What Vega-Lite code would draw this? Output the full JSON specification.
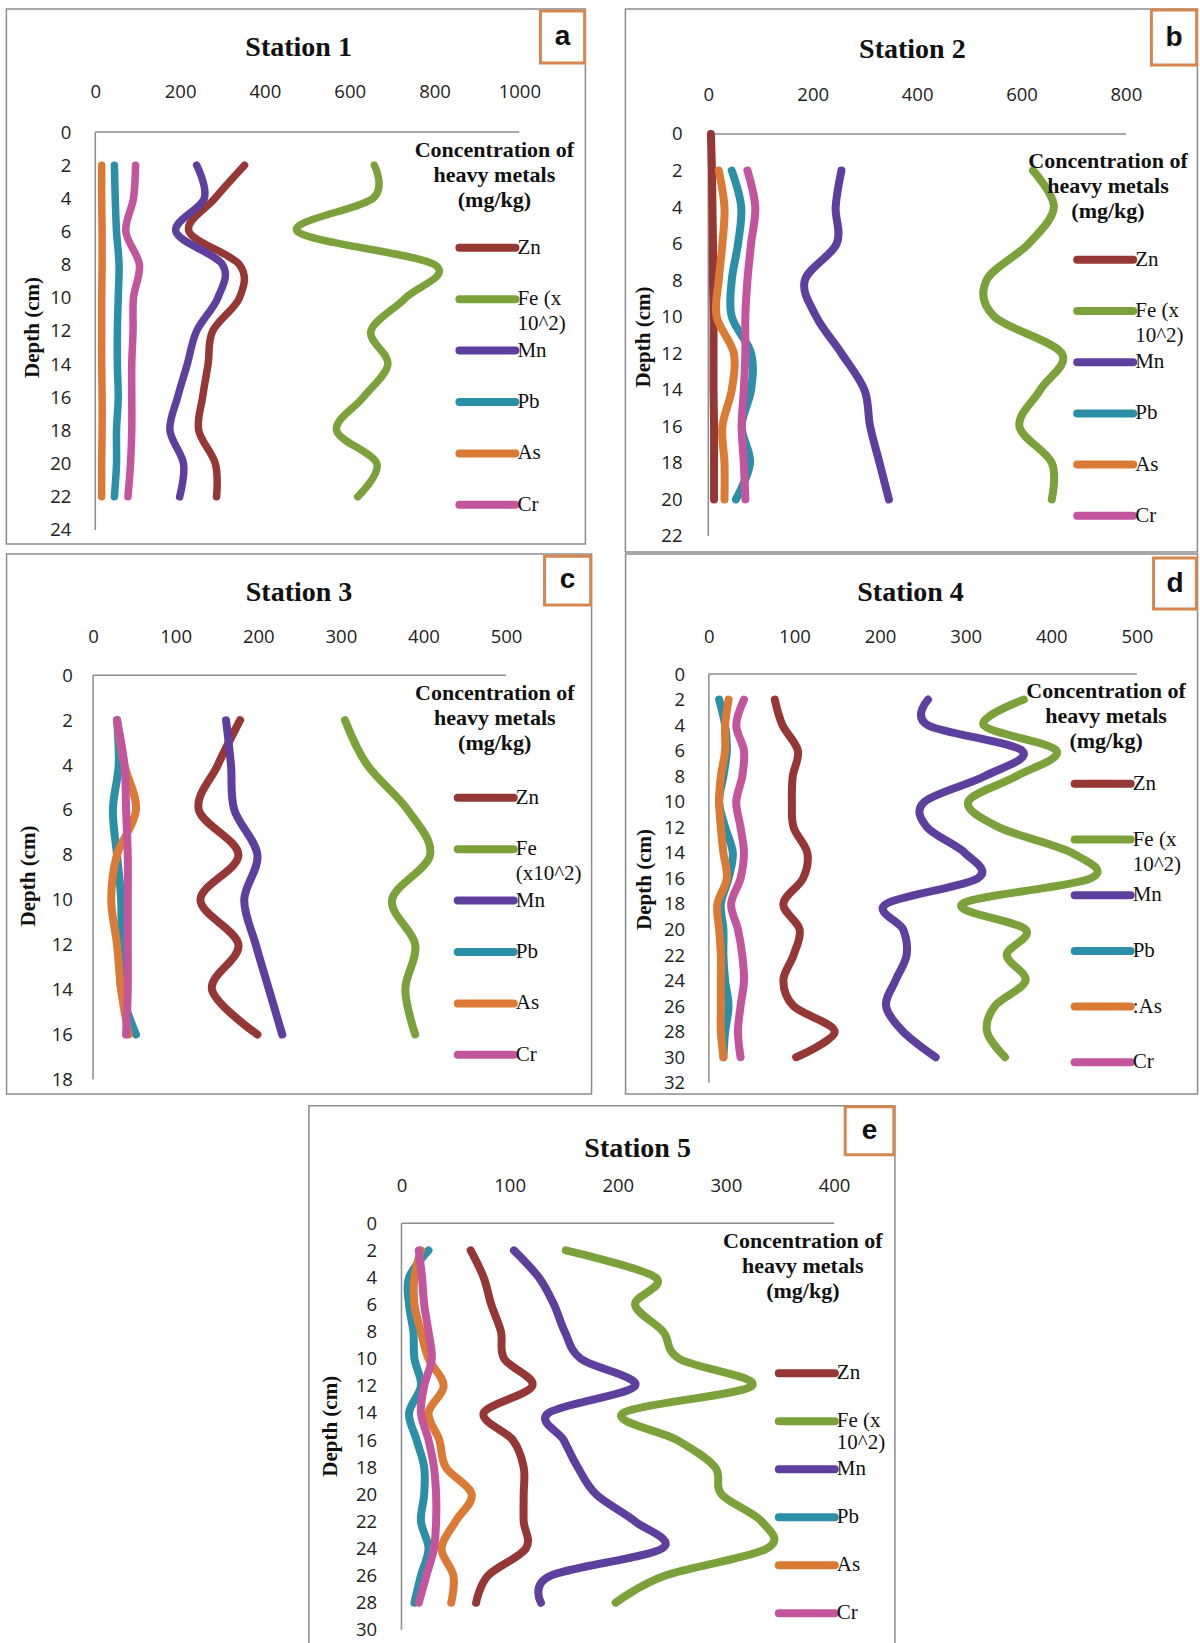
{
"$schema": "https://vega.github.io/schema/vega-lite/v6.json",
"background": "white",
"padding": {"left": 5, "top": 7, "right": 0, "bottom": 0},
"config": {
  "view": {"stroke": "#8c8c8c", "strokeWidth": 1.5},
  "axis": {"labelFont": "Open Sans", "labelFontSize": 18.5, "labelColor": "#222222", "domain": false, "ticks": false, "tickSize": 0, "grid": false, "labelOverlap": false, "labelFlush": false, "format": "d"},
  "title": {"font": "Liberation Serif", "fontSize": 28, "fontWeight": "bold", "color": "#111111", "anchor": "middle", "frame": "group"},
  "legend": {"titleFont": "Liberation Serif", "titleFontSize": 22, "titleFontWeight": "bold", "titleColor": "#111111", "titleLineHeight": 25, "titleAlign": "center", "titleAnchor": "middle", "titleLimit": 400, "padding": 0, "symbolType": "M-4,0H4", "symbolSize": 196, "symbolStrokeWidth": 8, "labelFont": "Liberation Serif", "labelFontSize": 21, "labelColor": "#111111", "labelBaseline": "middle", "labelLimit": 300, "labelOffset": 19, "gridAlign": "all"}
},
"datasets": {
"s1": [
{"metal":"Zn","depth":2,"value":352},{"metal":"Zn","depth":4,"value":282},{"metal":"Zn","depth":6,"value":221},{"metal":"Zn","depth":8,"value":340},{"metal":"Zn","depth":10,"value":340},{"metal":"Zn","depth":12,"value":277},{"metal":"Zn","depth":14,"value":266},{"metal":"Zn","depth":16,"value":253},{"metal":"Zn","depth":18,"value":244},{"metal":"Zn","depth":20,"value":283},{"metal":"Zn","depth":22,"value":286},
{"metal":"Fe","depth":2,"value":658},{"metal":"Fe","depth":4,"value":655},{"metal":"Fe","depth":6,"value":477},{"metal":"Fe","depth":8,"value":800},{"metal":"Fe","depth":10,"value":732},{"metal":"Fe","depth":12,"value":650},{"metal":"Fe","depth":14,"value":690},{"metal":"Fe","depth":16,"value":632},{"metal":"Fe","depth":18,"value":569},{"metal":"Fe","depth":20,"value":664},{"metal":"Fe","depth":22,"value":619},
{"metal":"Mn","depth":2,"value":239},{"metal":"Mn","depth":4,"value":257},{"metal":"Mn","depth":6,"value":190},{"metal":"Mn","depth":8,"value":300},{"metal":"Mn","depth":10,"value":289},{"metal":"Mn","depth":12,"value":239},{"metal":"Mn","depth":14,"value":217},{"metal":"Mn","depth":16,"value":194},{"metal":"Mn","depth":18,"value":176},{"metal":"Mn","depth":20,"value":208},{"metal":"Mn","depth":22,"value":199},
{"metal":"Pb","depth":2,"value":45},{"metal":"Pb","depth":4,"value":47},{"metal":"Pb","depth":6,"value":50},{"metal":"Pb","depth":8,"value":56},{"metal":"Pb","depth":10,"value":54},{"metal":"Pb","depth":12,"value":52},{"metal":"Pb","depth":14,"value":52},{"metal":"Pb","depth":16,"value":54},{"metal":"Pb","depth":18,"value":50},{"metal":"Pb","depth":20,"value":50},{"metal":"Pb","depth":22,"value":45},
{"metal":"As","depth":2,"value":15},{"metal":"As","depth":4,"value":15},{"metal":"As","depth":6,"value":16},{"metal":"As","depth":8,"value":16},{"metal":"As","depth":10,"value":15},{"metal":"As","depth":12,"value":15},{"metal":"As","depth":14,"value":15},{"metal":"As","depth":16,"value":16},{"metal":"As","depth":18,"value":16},{"metal":"As","depth":20,"value":15},{"metal":"As","depth":22,"value":15},
{"metal":"Cr","depth":2,"value":95},{"metal":"Cr","depth":4,"value":90},{"metal":"Cr","depth":6,"value":72},{"metal":"Cr","depth":8,"value":104},{"metal":"Cr","depth":10,"value":90},{"metal":"Cr","depth":12,"value":89},{"metal":"Cr","depth":14,"value":86},{"metal":"Cr","depth":16,"value":86},{"metal":"Cr","depth":18,"value":86},{"metal":"Cr","depth":20,"value":83},{"metal":"Cr","depth":22,"value":77}
],
"s2": [
{"metal":"Zn","depth":0,"value":5},{"metal":"Zn","depth":2,"value":7},{"metal":"Zn","depth":4,"value":8},{"metal":"Zn","depth":6,"value":9},{"metal":"Zn","depth":8,"value":9},{"metal":"Zn","depth":10,"value":10},{"metal":"Zn","depth":12,"value":10},{"metal":"Zn","depth":14,"value":10},{"metal":"Zn","depth":16,"value":11},{"metal":"Zn","depth":18,"value":11},{"metal":"Zn","depth":20,"value":11},
{"metal":"Fe","depth":2,"value":622},{"metal":"Fe","depth":4,"value":662},{"metal":"Fe","depth":6,"value":614},{"metal":"Fe","depth":8,"value":533},{"metal":"Fe","depth":10,"value":548},{"metal":"Fe","depth":12,"value":677},{"metal":"Fe","depth":14,"value":636},{"metal":"Fe","depth":16,"value":596},{"metal":"Fe","depth":18,"value":658},{"metal":"Fe","depth":20,"value":658},
{"metal":"Mn","depth":2,"value":255},{"metal":"Mn","depth":4,"value":244},{"metal":"Mn","depth":6,"value":246},{"metal":"Mn","depth":8,"value":185},{"metal":"Mn","depth":10,"value":207},{"metal":"Mn","depth":12,"value":255},{"metal":"Mn","depth":14,"value":299},{"metal":"Mn","depth":16,"value":310},{"metal":"Mn","depth":18,"value":328},{"metal":"Mn","depth":20,"value":346},
{"metal":"Pb","depth":2,"value":45},{"metal":"Pb","depth":4,"value":63},{"metal":"Pb","depth":6,"value":57},{"metal":"Pb","depth":8,"value":45},{"metal":"Pb","depth":10,"value":45},{"metal":"Pb","depth":12,"value":82},{"metal":"Pb","depth":14,"value":82},{"metal":"Pb","depth":16,"value":64},{"metal":"Pb","depth":18,"value":80},{"metal":"Pb","depth":20,"value":53},
{"metal":"As","depth":2,"value":20},{"metal":"As","depth":4,"value":31},{"metal":"As","depth":6,"value":27},{"metal":"As","depth":8,"value":20},{"metal":"As","depth":10,"value":16},{"metal":"As","depth":12,"value":49},{"metal":"As","depth":14,"value":45},{"metal":"As","depth":16,"value":27},{"metal":"As","depth":18,"value":31},{"metal":"As","depth":20,"value":31},
{"metal":"Cr","depth":2,"value":75},{"metal":"Cr","depth":4,"value":90},{"metal":"Cr","depth":6,"value":82},{"metal":"Cr","depth":8,"value":75},{"metal":"Cr","depth":10,"value":71},{"metal":"Cr","depth":12,"value":71},{"metal":"Cr","depth":14,"value":68},{"metal":"Cr","depth":16,"value":64},{"metal":"Cr","depth":18,"value":68},{"metal":"Cr","depth":20,"value":71}
],
"s3": [
{"metal":"Zn","depth":2,"value":178},{"metal":"Zn","depth":4,"value":151},{"metal":"Zn","depth":6,"value":128},{"metal":"Zn","depth":8,"value":176},{"metal":"Zn","depth":10,"value":130},{"metal":"Zn","depth":12,"value":176},{"metal":"Zn","depth":14,"value":144},{"metal":"Zn","depth":16,"value":199},
{"metal":"Fe","depth":2,"value":305},{"metal":"Fe","depth":4,"value":332},{"metal":"Fe","depth":6,"value":381},{"metal":"Fe","depth":8,"value":408},{"metal":"Fe","depth":10,"value":362},{"metal":"Fe","depth":12,"value":390},{"metal":"Fe","depth":14,"value":378},{"metal":"Fe","depth":16,"value":390},
{"metal":"Mn","depth":2,"value":161},{"metal":"Mn","depth":4,"value":167},{"metal":"Mn","depth":6,"value":171},{"metal":"Mn","depth":8,"value":199},{"metal":"Mn","depth":10,"value":183},{"metal":"Mn","depth":12,"value":197},{"metal":"Mn","depth":14,"value":213},{"metal":"Mn","depth":16,"value":229},
{"metal":"Pb","depth":2,"value":29},{"metal":"Pb","depth":4,"value":31},{"metal":"Pb","depth":6,"value":24},{"metal":"Pb","depth":8,"value":29},{"metal":"Pb","depth":10,"value":34},{"metal":"Pb","depth":12,"value":34},{"metal":"Pb","depth":14,"value":34},{"metal":"Pb","depth":16,"value":52},
{"metal":"As","depth":2,"value":29},{"metal":"As","depth":4,"value":38},{"metal":"As","depth":6,"value":52},{"metal":"As","depth":8,"value":29},{"metal":"As","depth":10,"value":22},{"metal":"As","depth":12,"value":29},{"metal":"As","depth":14,"value":34},{"metal":"As","depth":16,"value":43},
{"metal":"Cr","depth":2,"value":29},{"metal":"Cr","depth":4,"value":38},{"metal":"Cr","depth":6,"value":40},{"metal":"Cr","depth":8,"value":42},{"metal":"Cr","depth":10,"value":42},{"metal":"Cr","depth":12,"value":42},{"metal":"Cr","depth":14,"value":42},{"metal":"Cr","depth":16,"value":40}
],
"s4": [
{"metal":"Zn","depth":2,"value":77},{"metal":"Zn","depth":4,"value":86},{"metal":"Zn","depth":6,"value":104},{"metal":"Zn","depth":8,"value":98},{"metal":"Zn","depth":10,"value":97},{"metal":"Zn","depth":12,"value":99},{"metal":"Zn","depth":14,"value":115},{"metal":"Zn","depth":16,"value":110},{"metal":"Zn","depth":18,"value":87},{"metal":"Zn","depth":20,"value":106},{"metal":"Zn","depth":22,"value":99},{"metal":"Zn","depth":24,"value":87},{"metal":"Zn","depth":26,"value":99},{"metal":"Zn","depth":28,"value":147},{"metal":"Zn","depth":30,"value":102},
{"metal":"Fe","depth":2,"value":368},{"metal":"Fe","depth":4,"value":321},{"metal":"Fe","depth":6,"value":406},{"metal":"Fe","depth":8,"value":359},{"metal":"Fe","depth":10,"value":303},{"metal":"Fe","depth":12,"value":339},{"metal":"Fe","depth":14,"value":424},{"metal":"Fe","depth":16,"value":446},{"metal":"Fe","depth":18,"value":296},{"metal":"Fe","depth":20,"value":370},{"metal":"Fe","depth":22,"value":348},{"metal":"Fe","depth":24,"value":370},{"metal":"Fe","depth":26,"value":334},{"metal":"Fe","depth":28,"value":325},{"metal":"Fe","depth":30,"value":346},
{"metal":"Mn","depth":2,"value":256},{"metal":"Mn","depth":4,"value":256},{"metal":"Mn","depth":6,"value":366},{"metal":"Mn","depth":8,"value":322},{"metal":"Mn","depth":10,"value":252},{"metal":"Mn","depth":12,"value":255},{"metal":"Mn","depth":14,"value":299},{"metal":"Mn","depth":16,"value":314},{"metal":"Mn","depth":18,"value":207},{"metal":"Mn","depth":20,"value":227},{"metal":"Mn","depth":22,"value":231},{"metal":"Mn","depth":24,"value":218},{"metal":"Mn","depth":26,"value":207},{"metal":"Mn","depth":28,"value":227},{"metal":"Mn","depth":30,"value":265},
{"metal":"Pb","depth":2,"value":12},{"metal":"Pb","depth":4,"value":19},{"metal":"Pb","depth":6,"value":21},{"metal":"Pb","depth":8,"value":17},{"metal":"Pb","depth":10,"value":12},{"metal":"Pb","depth":12,"value":19},{"metal":"Pb","depth":14,"value":28},{"metal":"Pb","depth":16,"value":23},{"metal":"Pb","depth":18,"value":14},{"metal":"Pb","depth":20,"value":17},{"metal":"Pb","depth":22,"value":17},{"metal":"Pb","depth":24,"value":19},{"metal":"Pb","depth":26,"value":23},{"metal":"Pb","depth":28,"value":19},{"metal":"Pb","depth":30,"value":17},
{"metal":"As","depth":2,"value":23},{"metal":"As","depth":4,"value":19},{"metal":"As","depth":6,"value":19},{"metal":"As","depth":8,"value":14},{"metal":"As","depth":10,"value":12},{"metal":"As","depth":12,"value":14},{"metal":"As","depth":14,"value":17},{"metal":"As","depth":16,"value":21},{"metal":"As","depth":18,"value":10},{"metal":"As","depth":20,"value":12},{"metal":"As","depth":22,"value":14},{"metal":"As","depth":24,"value":14},{"metal":"As","depth":26,"value":14},{"metal":"As","depth":28,"value":14},{"metal":"As","depth":30,"value":17},
{"metal":"Cr","depth":2,"value":41},{"metal":"Cr","depth":4,"value":32},{"metal":"Cr","depth":6,"value":41},{"metal":"Cr","depth":8,"value":39},{"metal":"Cr","depth":10,"value":32},{"metal":"Cr","depth":12,"value":37},{"metal":"Cr","depth":14,"value":41},{"metal":"Cr","depth":16,"value":37},{"metal":"Cr","depth":18,"value":26},{"metal":"Cr","depth":20,"value":34},{"metal":"Cr","depth":22,"value":39},{"metal":"Cr","depth":24,"value":41},{"metal":"Cr","depth":26,"value":37},{"metal":"Cr","depth":28,"value":34},{"metal":"Cr","depth":30,"value":37}
],
"s5": [
{"metal":"Zn","depth":2,"value":64},{"metal":"Zn","depth":4,"value":76},{"metal":"Zn","depth":6,"value":83},{"metal":"Zn","depth":8,"value":92},{"metal":"Zn","depth":10,"value":95},{"metal":"Zn","depth":12,"value":121},{"metal":"Zn","depth":14,"value":76},{"metal":"Zn","depth":16,"value":103},{"metal":"Zn","depth":18,"value":113},{"metal":"Zn","depth":20,"value":113},{"metal":"Zn","depth":22,"value":113},{"metal":"Zn","depth":24,"value":115},{"metal":"Zn","depth":26,"value":80},{"metal":"Zn","depth":28,"value":69},
{"metal":"Fe","depth":2,"value":152},{"metal":"Fe","depth":4,"value":235},{"metal":"Fe","depth":6,"value":216},{"metal":"Fe","depth":8,"value":242},{"metal":"Fe","depth":10,"value":257},{"metal":"Fe","depth":12,"value":324},{"metal":"Fe","depth":14,"value":205},{"metal":"Fe","depth":16,"value":255},{"metal":"Fe","depth":18,"value":290},{"metal":"Fe","depth":20,"value":296},{"metal":"Fe","depth":22,"value":333},{"metal":"Fe","depth":24,"value":338},{"metal":"Fe","depth":26,"value":244},{"metal":"Fe","depth":28,"value":198},
{"metal":"Mn","depth":2,"value":104},{"metal":"Mn","depth":4,"value":127},{"metal":"Mn","depth":6,"value":141},{"metal":"Mn","depth":8,"value":151},{"metal":"Mn","depth":10,"value":166},{"metal":"Mn","depth":12,"value":216},{"metal":"Mn","depth":14,"value":136},{"metal":"Mn","depth":16,"value":150},{"metal":"Mn","depth":18,"value":163},{"metal":"Mn","depth":20,"value":180},{"metal":"Mn","depth":22,"value":216},{"metal":"Mn","depth":24,"value":241},{"metal":"Mn","depth":26,"value":138},{"metal":"Mn","depth":28,"value":129},
{"metal":"Pb","depth":2,"value":25},{"metal":"Pb","depth":4,"value":7},{"metal":"Pb","depth":6,"value":7},{"metal":"Pb","depth":8,"value":11},{"metal":"Pb","depth":10,"value":12},{"metal":"Pb","depth":12,"value":18},{"metal":"Pb","depth":14,"value":7},{"metal":"Pb","depth":16,"value":14},{"metal":"Pb","depth":18,"value":21},{"metal":"Pb","depth":20,"value":21},{"metal":"Pb","depth":22,"value":18},{"metal":"Pb","depth":24,"value":25},{"metal":"Pb","depth":26,"value":18},{"metal":"Pb","depth":28,"value":12},
{"metal":"As","depth":2,"value":18},{"metal":"As","depth":4,"value":12},{"metal":"As","depth":6,"value":12},{"metal":"As","depth":8,"value":18},{"metal":"As","depth":10,"value":25},{"metal":"As","depth":12,"value":39},{"metal":"As","depth":14,"value":25},{"metal":"As","depth":16,"value":35},{"metal":"As","depth":18,"value":41},{"metal":"As","depth":20,"value":65},{"metal":"As","depth":22,"value":50},{"metal":"As","depth":24,"value":37},{"metal":"As","depth":26,"value":48},{"metal":"As","depth":28,"value":46},
{"metal":"Cr","depth":2,"value":16},{"metal":"Cr","depth":4,"value":19},{"metal":"Cr","depth":6,"value":21},{"metal":"Cr","depth":8,"value":25},{"metal":"Cr","depth":10,"value":28},{"metal":"Cr","depth":12,"value":21},{"metal":"Cr","depth":14,"value":18},{"metal":"Cr","depth":16,"value":25},{"metal":"Cr","depth":18,"value":30},{"metal":"Cr","depth":20,"value":32},{"metal":"Cr","depth":22,"value":32},{"metal":"Cr","depth":24,"value":30},{"metal":"Cr","depth":26,"value":23},{"metal":"Cr","depth":28,"value":16}
]
},
"resolve": {"scale": {"color": "independent"}, "legend": {"color": "independent"}},
"vconcat": [
 {"resolve": {"scale": {"color": "independent"}, "legend": {"color": "independent"}},
  "vconcat": [
  {"resolve": {"scale": {"color": "independent"}, "legend": {"color": "independent"}},
   "hconcat": [
   {"width": 579, "height": 535,
    "title": {"text": "Station 1", "offset": -53, "dx": 2.7},
    "layer": [
     {"data": {"values": [{}]}, "mark": {"type": "rule", "color": "#8c8c8c", "strokeWidth": 1.5},
      "encoding": {"x": {"datum": 0, "type": "quantitative", "scale": {"domain": [-209.7, 1155.9], "nice": false, "zero": false}}, "x2": {"datum": 1000}, "y": {"datum": 0, "type": "quantitative", "scale": {"domain": [-7.42, 24.85], "nice": false, "zero": false, "reverse": true}}}},
     {"data": {"values": [{}]}, "mark": {"type": "rule", "color": "#8c8c8c", "strokeWidth": 1.5},
      "encoding": {"x": {"datum": 0, "type": "quantitative", "scale": {"domain": [-209.7, 1155.9], "nice": false, "zero": false}}, "y": {"datum": 0, "type": "quantitative", "scale": {"domain": [-7.42, 24.85], "nice": false, "zero": false, "reverse": true}}, "y2": {"datum": 24}}},
     {"data": {"name": "s1"}, "mark": {"type": "line", "interpolate": "cardinal", "tension": 0, "strokeWidth": 7.5, "strokeCap": "round", "strokeJoin": "round"},
      "encoding": {
       "x": {"field": "value", "type": "quantitative", "scale": {"domain": [-209.7, 1155.9], "nice": false, "zero": false}, "axis": {"orient": "top", "values": [0, 200, 400, 600, 800, 1000], "tickCount": 60, "offset": -123, "labelPadding": 30.5, "labelOverlap": false, "title": null}},
       "y": {"field": "depth", "type": "quantitative", "scale": {"domain": [-7.42, 24.85], "nice": false, "zero": false, "reverse": true}, "axis": {"orient": "left", "values": [0, 2, 4, 6, 8, 10, 12, 14, 16, 18, 20, 22, 24], "tickCount": 60, "offset": -88.9, "labelPadding": 24.4, "labelOverlap": false, "title": "Depth (cm)", "titleX": -62.9, "titleY": 318, "titleAngle": 270, "titleAlign": "center", "titleBaseline": "middle", "titleFont": "Liberation Serif", "titleFontSize": 21, "titleFontWeight": "bold", "titleColor": "#111111"}},
       "color": {"field": "metal", "type": "nominal", "scale": {"domain": ["Zn", "Fe", "Mn", "Pb", "As", "Cr"], "range": ["#953735", "#7BA23A", "#5E3F9E", "#2B8FA8", "#DA7A35", "#C3549E"]},
        "legend": {"orient": "none", "legendX": 408, "legendY": 131, "title": ["Concentration of", "heavy metals", "(mg/kg)"], "symbolOffset": 53, "titlePadding": 24.8, "rowPadding": 0.4,
         "labelExpr": "datum.label == 'Fe' ? ['Fe (x', '10^2)'] : datum.label",
         "encoding": {"symbols": {"strokeCap": {"value": "round"}}, "labels": {"lineHeight": {"value": 25}}}}},
       "order": {"field": "depth", "type": "quantitative"}}},
     {"data": {"values": [{"letter": "a"}]}, "mark": {"type": "rect", "fill": "white", "stroke": "#D4884F", "strokeWidth": 3},
      "encoding": {"x": {"datum": 1049.8, "type": "quantitative", "scale": {"domain": [-209.7, 1155.9], "nice": false, "zero": false}}, "x2": {"datum": 1154}, "y": {"datum": -7.3, "type": "quantitative", "scale": {"domain": [-7.42, 24.85], "nice": false, "zero": false, "reverse": true}}, "y2": {"datum": -4.16}}},
     {"data": {"values": [{"letter": "a"}]}, "mark": {"type": "text", "font": "Liberation Sans", "fontWeight": "bold", "fontSize": 28, "color": "#111111", "baseline": "middle", "align": "center"},
      "encoding": {"x": {"datum": 1102, "type": "quantitative", "scale": {"domain": [-209.7, 1155.9], "nice": false, "zero": false}}, "y": {"datum": -5.73, "type": "quantitative", "scale": {"domain": [-7.42, 24.85], "nice": false, "zero": false, "reverse": true}}, "text": {"field": "letter"}}}
    ]},
   {"width": 572, "height": 543,
    "title": {"text": "Station 2", "offset": -55, "dx": 1},
    "layer": [
     {"data": {"values": [{}]}, "mark": {"type": "rule", "color": "#8c8c8c", "strokeWidth": 1.5},
      "encoding": {"x": {"datum": 0, "type": "quantitative", "scale": {"domain": [-158.8, 937], "nice": false, "zero": false}}, "x2": {"datum": 800}, "y": {"datum": 0, "type": "quantitative", "scale": {"domain": [-6.84, 22.88], "nice": false, "zero": false, "reverse": true}}}},
     {"data": {"values": [{}]}, "mark": {"type": "rule", "color": "#8c8c8c", "strokeWidth": 1.5},
      "encoding": {"x": {"datum": 0, "type": "quantitative", "scale": {"domain": [-158.8, 937], "nice": false, "zero": false}}, "y": {"datum": 0, "type": "quantitative", "scale": {"domain": [-6.84, 22.88], "nice": false, "zero": false, "reverse": true}}, "y2": {"datum": 22}}},
     {"data": {"name": "s2"}, "mark": {"type": "line", "interpolate": "cardinal", "tension": 0, "strokeWidth": 8, "strokeCap": "round", "strokeJoin": "round"},
      "encoding": {
       "x": {"field": "value", "type": "quantitative", "scale": {"domain": [-158.8, 937], "nice": false, "zero": false}, "axis": {"orient": "top", "values": [0, 200, 400, 600, 800], "tickCount": 60, "offset": -125, "labelPadding": 29.9, "labelOverlap": false, "title": null}},
       "y": {"field": "depth", "type": "quantitative", "scale": {"domain": [-6.84, 22.88], "nice": false, "zero": false, "reverse": true}, "axis": {"orient": "left", "values": [0, 2, 4, 6, 8, 10, 12, 14, 16, 18, 20, 22], "tickCount": 60, "offset": -82.9, "labelPadding": 26.3, "labelOverlap": false, "title": "Depth (cm)", "titleX": -64.3, "titleY": 327.5, "titleAngle": 270, "titleAlign": "center", "titleBaseline": "middle", "titleFont": "Liberation Serif", "titleFontSize": 21, "titleFontWeight": "bold", "titleColor": "#111111"}},
       "color": {"field": "metal", "type": "nominal", "scale": {"domain": ["Zn", "Fe", "Mn", "Pb", "As", "Cr"], "range": ["#953735", "#7BA23A", "#5E3F9E", "#2B8FA8", "#DA7A35", "#C3549E"]},
        "legend": {"orient": "none", "legendX": 402.6, "legendY": 141.5, "title": ["Concentration of", "heavy metals", "(mg/kg)"], "symbolOffset": 62.2, "titlePadding": 26.3, "rowPadding": 0.2,
         "labelExpr": "datum.label == 'Fe' ? ['Fe (x', '10^2)'] : datum.label",
         "encoding": {"symbols": {"strokeCap": {"value": "round"}}, "labels": {"lineHeight": {"value": 25}}}}},
       "order": {"field": "depth", "type": "quantitative"}}},
     {"data": {"values": [{"letter": "b"}]}, "mark": {"type": "rect", "fill": "white", "stroke": "#D4884F", "strokeWidth": 3},
      "encoding": {"x": {"datum": 848.9, "type": "quantitative", "scale": {"domain": [-158.8, 937], "nice": false, "zero": false}}, "x2": {"datum": 935.5}, "y": {"datum": -6.78, "type": "quantitative", "scale": {"domain": [-6.84, 22.88], "nice": false, "zero": false, "reverse": true}}, "y2": {"datum": -3.78}}},
     {"data": {"values": [{"letter": "b"}]}, "mark": {"type": "text", "font": "Liberation Sans", "fontWeight": "bold", "fontSize": 28, "color": "#111111", "baseline": "middle", "align": "center"},
      "encoding": {"x": {"datum": 892.2, "type": "quantitative", "scale": {"domain": [-158.8, 937], "nice": false, "zero": false}}, "y": {"datum": -5.28, "type": "quantitative", "scale": {"domain": [-6.84, 22.88], "nice": false, "zero": false, "reverse": true}}, "text": {"field": "letter"}}}
    ]}
  ], "spacing": 37},
  {"resolve": {"scale": {"color": "independent"}, "legend": {"color": "independent"}},
   "hconcat": [
   {"width": 585, "height": 540,
    "title": {"text": "Station 3", "offset": -52.7, "dx": 0},
    "layer": [
     {"data": {"values": [{}]}, "mark": {"type": "rule", "color": "#8c8c8c", "strokeWidth": 1.5},
      "encoding": {"x": {"datum": 0, "type": "quantitative", "scale": {"domain": [-104.7, 603.5], "nice": false, "zero": false}}, "x2": {"datum": 500}, "y": {"datum": 0, "type": "quantitative", "scale": {"domain": [-5.4, 18.65], "nice": false, "zero": false, "reverse": true}}}},
     {"data": {"values": [{}]}, "mark": {"type": "rule", "color": "#8c8c8c", "strokeWidth": 1.5},
      "encoding": {"x": {"datum": 0, "type": "quantitative", "scale": {"domain": [-104.7, 603.5], "nice": false, "zero": false}}, "y": {"datum": 0, "type": "quantitative", "scale": {"domain": [-5.4, 18.65], "nice": false, "zero": false, "reverse": true}}, "y2": {"datum": 18}}},
     {"data": {"name": "s3"}, "mark": {"type": "line", "interpolate": "cardinal", "tension": 0, "strokeWidth": 8, "strokeCap": "round", "strokeJoin": "round"},
      "encoding": {
       "x": {"field": "value", "type": "quantitative", "scale": {"domain": [-104.7, 603.5], "nice": false, "zero": false}, "axis": {"orient": "top", "values": [0, 100, 200, 300, 400, 500], "tickCount": 60, "offset": -121.3, "labelPadding": 28.6, "labelOverlap": false, "title": null}},
       "y": {"field": "depth", "type": "quantitative", "scale": {"domain": [-5.4, 18.65], "nice": false, "zero": false, "reverse": true}, "axis": {"orient": "left", "values": [0, 2, 4, 6, 8, 10, 12, 14, 16, 18], "tickCount": 60, "offset": -86.5, "labelPadding": 20.7, "labelOverlap": false, "title": "Depth (cm)", "titleX": -64.7, "titleY": 321.5, "titleAngle": 270, "titleAlign": "center", "titleBaseline": "middle", "titleFont": "Liberation Serif", "titleFontSize": 21, "titleFontWeight": "bold", "titleColor": "#111111"}},
       "color": {"field": "metal", "type": "nominal", "scale": {"domain": ["Zn", "Fe", "Mn", "Pb", "As", "Cr"], "range": ["#953735", "#7BA23A", "#5E3F9E", "#2B8FA8", "#DA7A35", "#C3549E"]},
        "legend": {"orient": "none", "legendX": 401.2, "legendY": 128.8, "title": ["Concentration of", "heavy metals", "(mg/kg)"], "symbolOffset": 67, "titlePadding": 32, "rowPadding": 0.4,
         "labelExpr": "datum.label == 'Fe' ? ['Fe', '(x10^2)'] : datum.label",
         "encoding": {"symbols": {"strokeCap": {"value": "round"}}, "labels": {"lineHeight": {"value": 25}}}}},
       "order": {"field": "depth", "type": "quantitative"}}},
     {"data": {"values": [{"letter": "c"}]}, "mark": {"type": "rect", "fill": "white", "stroke": "#D4884F", "strokeWidth": 3},
      "encoding": {"x": {"datum": 546.6, "type": "quantitative", "scale": {"domain": [-104.7, 603.5], "nice": false, "zero": false}}, "x2": {"datum": 602.4}, "y": {"datum": -5.3, "type": "quantitative", "scale": {"domain": [-5.4, 18.65], "nice": false, "zero": false, "reverse": true}}, "y2": {"datum": -3.13}}},
     {"data": {"values": [{"letter": "c"}]}, "mark": {"type": "text", "font": "Liberation Sans", "fontWeight": "bold", "fontSize": 28, "color": "#111111", "baseline": "middle", "align": "center"},
      "encoding": {"x": {"datum": 574.5, "type": "quantitative", "scale": {"domain": [-104.7, 603.5], "nice": false, "zero": false}}, "y": {"datum": -4.22, "type": "quantitative", "scale": {"domain": [-5.4, 18.65], "nice": false, "zero": false, "reverse": true}}, "text": {"field": "letter"}}}
    ]},
   {"width": 572, "height": 540,
    "title": {"text": "Station 4", "offset": -52.7, "dx": -1},
    "layer": [
     {"data": {"values": [{}]}, "mark": {"type": "rule", "color": "#8c8c8c", "strokeWidth": 1.5},
      "encoding": {"x": {"datum": 0, "type": "quantitative", "scale": {"domain": [-97.3, 570.9], "nice": false, "zero": false}}, "x2": {"datum": 500}, "y": {"datum": 0, "type": "quantitative", "scale": {"domain": [-9.4, 32.88], "nice": false, "zero": false, "reverse": true}}}},
     {"data": {"values": [{}]}, "mark": {"type": "rule", "color": "#8c8c8c", "strokeWidth": 1.5},
      "encoding": {"x": {"datum": 0, "type": "quantitative", "scale": {"domain": [-97.3, 570.9], "nice": false, "zero": false}}, "y": {"datum": 0, "type": "quantitative", "scale": {"domain": [-9.4, 32.88], "nice": false, "zero": false, "reverse": true}}, "y2": {"datum": 32}}},
     {"data": {"name": "s4"}, "mark": {"type": "line", "interpolate": "cardinal", "tension": 0, "strokeWidth": 8, "strokeCap": "round", "strokeJoin": "round"},
      "encoding": {
       "x": {"field": "value", "type": "quantitative", "scale": {"domain": [-97.3, 570.9], "nice": false, "zero": false}, "axis": {"orient": "top", "values": [0, 100, 200, 300, 400, 500], "tickCount": 60, "offset": -120, "labelPadding": 27.6, "labelOverlap": false, "title": null}},
       "y": {"field": "depth", "type": "quantitative", "scale": {"domain": [-9.4, 32.88], "nice": false, "zero": false, "reverse": true}, "axis": {"orient": "left", "values": [0, 2, 4, 6, 8, 10, 12, 14, 16, 18, 20, 22, 24, 26, 28, 30, 32], "tickCount": 60, "offset": -83.3, "labelPadding": 24.3, "labelOverlap": false, "title": "Depth (cm)", "titleX": -64.3, "titleY": 325, "titleAngle": 270, "titleAlign": "center", "titleBaseline": "middle", "titleFont": "Liberation Serif", "titleFontSize": 21, "titleFontWeight": "bold", "titleColor": "#111111"}},
       "color": {"field": "metal", "type": "nominal", "scale": {"domain": ["Zn", "Fe", "Mn", "Pb", "As", "Cr"], "range": ["#953735", "#7BA23A", "#5E3F9E", "#2B8FA8", "#DA7A35", "#C3549E"]},
        "legend": {"orient": "none", "legendX": 400.5, "legendY": 127.1, "title": ["Concentration of", "heavy metals", "(mg/kg)"], "symbolOffset": 60.6, "titlePadding": 19.7, "rowPadding": 4.7,
         "labelExpr": "datum.label == 'Fe' ? ['Fe (x', '10^2)'] : datum.label == 'As' ? ':As' : datum.label",
         "encoding": {"symbols": {"strokeCap": {"value": "round"}}, "labels": {"lineHeight": {"value": 25}}}}},
       "order": {"field": "depth", "type": "quantitative"}}},
     {"data": {"values": [{"letter": "d"}]}, "mark": {"type": "rect", "fill": "white", "stroke": "#D4884F", "strokeWidth": 3},
      "encoding": {"x": {"datum": 519.5, "type": "quantitative", "scale": {"domain": [-97.3, 570.9], "nice": false, "zero": false}}, "x2": {"datum": 569.6}, "y": {"datum": -9.09, "type": "quantitative", "scale": {"domain": [-9.4, 32.88], "nice": false, "zero": false, "reverse": true}}, "y2": {"datum": -5.09}}},
     {"data": {"values": [{"letter": "d"}]}, "mark": {"type": "text", "font": "Liberation Sans", "fontWeight": "bold", "fontSize": 28, "color": "#111111", "baseline": "middle", "align": "center"},
      "encoding": {"x": {"datum": 544.5, "type": "quantitative", "scale": {"domain": [-97.3, 570.9], "nice": false, "zero": false}}, "y": {"datum": -7.09, "type": "quantitative", "scale": {"domain": [-9.4, 32.88], "nice": false, "zero": false, "reverse": true}}, "text": {"field": "letter"}}}
    ]}
  ], "spacing": 31}
 ], "spacing": 0, "center": true},
 {"width": 586, "height": 540,
  "title": {"text": "Station 5", "offset": -58, "dx": 35.7},
  "layer": [
   {"data": {"values": [{}]}, "mark": {"type": "rule", "color": "#8c8c8c", "strokeWidth": 1.5},
    "encoding": {"x": {"datum": 0, "type": "quantitative", "scale": {"domain": [-85.6, 456.3], "nice": false, "zero": false}}, "x2": {"datum": 400}, "y": {"datum": 0, "type": "quantitative", "scale": {"domain": [-8.67, 31.18], "nice": false, "zero": false, "reverse": true}}}},
   {"data": {"values": [{}]}, "mark": {"type": "rule", "color": "#8c8c8c", "strokeWidth": 1.5},
    "encoding": {"x": {"datum": 0, "type": "quantitative", "scale": {"domain": [-85.6, 456.3], "nice": false, "zero": false}}, "y": {"datum": 0, "type": "quantitative", "scale": {"domain": [-8.67, 31.18], "nice": false, "zero": false, "reverse": true}}, "y2": {"datum": 30}}},
   {"data": {"name": "s5"}, "mark": {"type": "line", "interpolate": "cardinal", "tension": 0, "strokeWidth": 8, "strokeCap": "round", "strokeJoin": "round"},
    "encoding": {
     "x": {"field": "value", "type": "quantitative", "scale": {"domain": [-85.6, 456.3], "nice": false, "zero": false}, "axis": {"orient": "top", "values": [0, 100, 200, 300, 400], "tickCount": 60, "offset": -117.5, "labelPadding": 27.4, "labelOverlap": false, "title": null}},
     "y": {"field": "depth", "type": "quantitative", "scale": {"domain": [-8.67, 31.18], "nice": false, "zero": false, "reverse": true}, "axis": {"orient": "left", "values": [0, 2, 4, 6, 8, 10, 12, 14, 16, 18, 20, 22, 24, 26, 28, 30], "tickCount": 60, "offset": -92.55, "labelPadding": 24.8, "labelOverlap": false, "minExtent": 100.5, "title": "Depth (cm)", "titleX": -70.8, "titleY": 320, "titleAngle": 270, "titleAlign": "center", "titleBaseline": "middle", "titleFont": "Liberation Serif", "titleFontSize": 21, "titleFontWeight": "bold", "titleColor": "#111111"}},
     "color": {"field": "metal", "type": "nominal", "scale": {"domain": ["Zn", "Fe", "Mn", "Pb", "As", "Cr"], "range": ["#953735", "#7BA23A", "#5E3F9E", "#2B8FA8", "#DA7A35", "#C3549E"]},
      "legend": {"orient": "none", "legendX": 410.9, "legendY": 124.9, "title": ["Concentration of", "heavy metals", "(mg/kg)"], "symbolOffset": 76, "titlePadding": 59.5, "rowPadding": 0,
       "labelExpr": "datum.label == 'Fe' ? ['Fe (x', '10^2)'] : datum.label",
       "encoding": {"symbols": {"strokeCap": {"value": "round"}}, "labels": {"lineHeight": {"value": 22}}}}},
     "order": {"field": "depth", "type": "quantitative"}}},
   {"data": {"values": [{"letter": "e"}]}, "mark": {"type": "rect", "fill": "white", "stroke": "#D4884F", "strokeWidth": 3},
    "encoding": {"x": {"datum": 410.3, "type": "quantitative", "scale": {"domain": [-85.6, 456.3], "nice": false, "zero": false}}, "x2": {"datum": 455.3}, "y": {"datum": -8.6, "type": "quantitative", "scale": {"domain": [-8.67, 31.18], "nice": false, "zero": false, "reverse": true}}, "y2": {"datum": -5.06}}},
   {"data": {"values": [{"letter": "e"}]}, "mark": {"type": "text", "font": "Liberation Sans", "fontWeight": "bold", "fontSize": 28, "color": "#111111", "baseline": "middle", "align": "center"},
    "encoding": {"x": {"datum": 432.8, "type": "quantitative", "scale": {"domain": [-85.6, 456.3], "nice": false, "zero": false}}, "y": {"datum": -6.83, "type": "quantitative", "scale": {"domain": [-8.67, 31.18], "nice": false, "zero": false, "reverse": true}}, "text": {"field": "letter"}}}
  ]}
],
"spacing": 8.8,
"center": true
}
